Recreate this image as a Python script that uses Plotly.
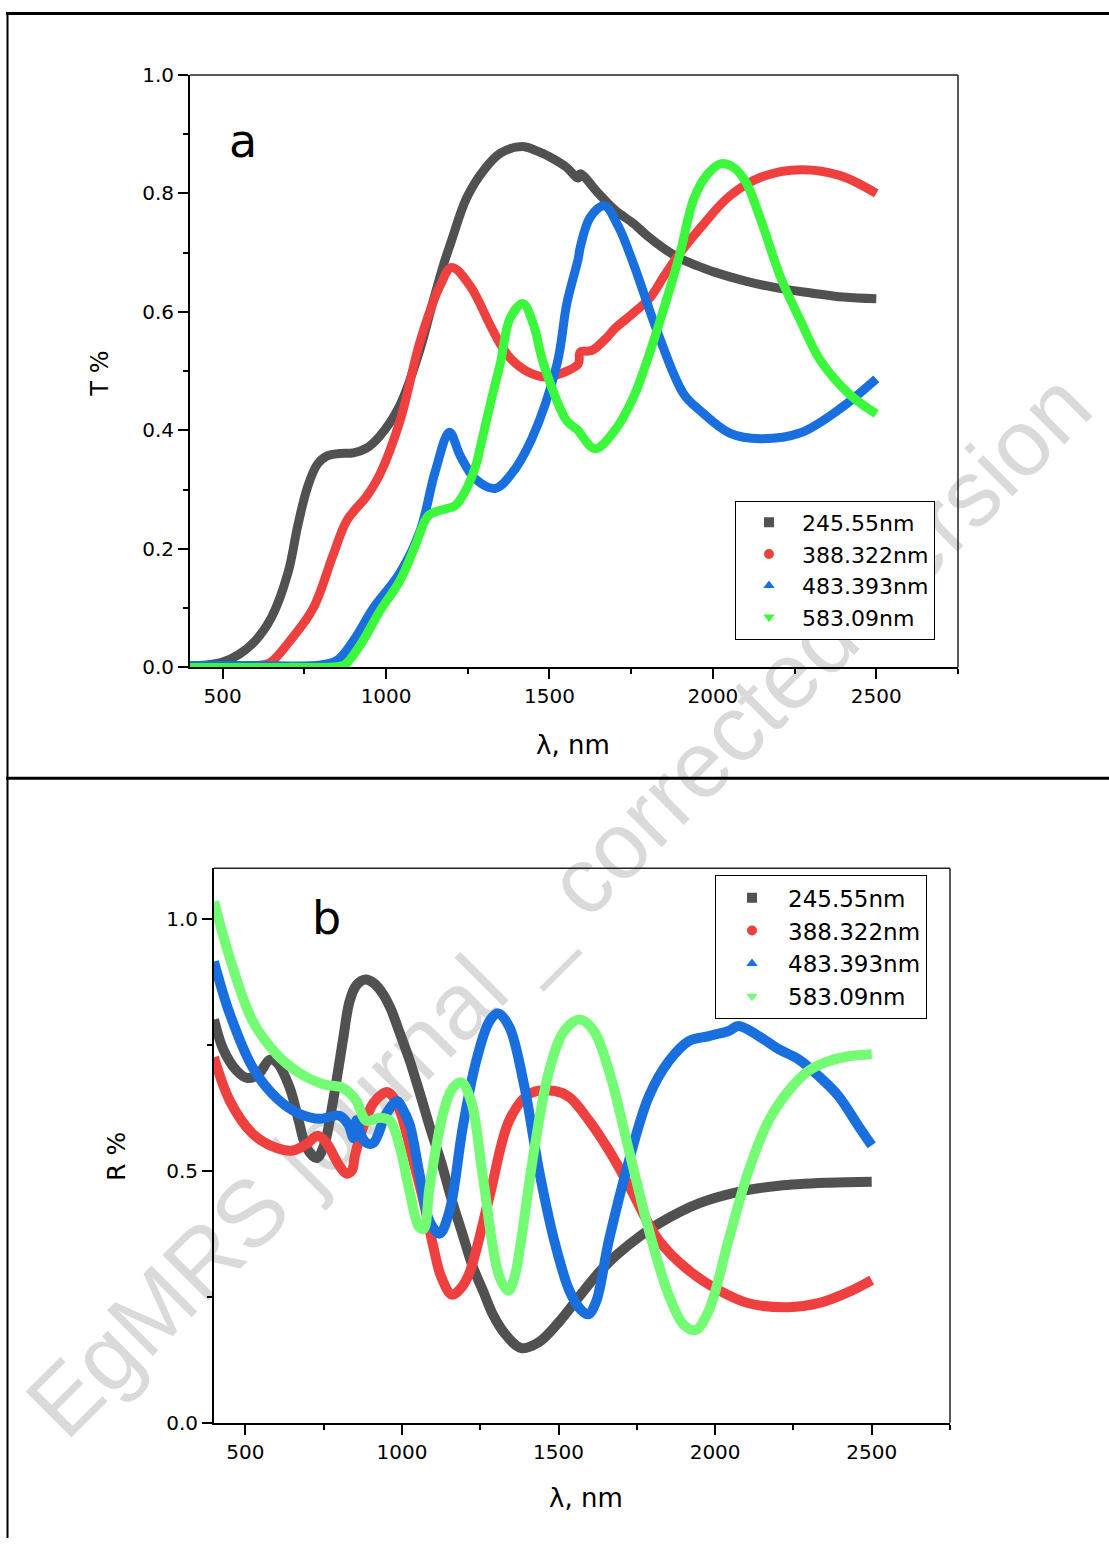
import plotly.graph_objects as go

# ---------------- data : panel a (T %) ----------------
series_names = ["245.55nm", "388.322nm", "483.393nm", "583.09nm"]

wl_T_245 = [400, 450, 500, 550, 600, 650, 700, 730, 760, 790, 820, 860, 900, 940, 980, 1040,
            1100, 1140, 1176, 1200, 1247, 1300, 1350, 1416, 1460, 1500, 1550, 1588, 1594, 1650,
            1700, 1757, 1800, 1850, 1900, 1951, 2000, 2100, 2200, 2300, 2400, 2500]
T_245 = [0.002, 0.004, 0.009, 0.022, 0.045, 0.085, 0.16, 0.24, 0.305, 0.343, 0.357, 0.361, 0.362,
         0.37, 0.39, 0.44, 0.53, 0.61, 0.68, 0.72, 0.793, 0.84, 0.868, 0.879, 0.872, 0.862, 0.845,
         0.826, 0.833, 0.80, 0.772, 0.749, 0.728, 0.707, 0.69, 0.678, 0.668, 0.652, 0.64, 0.632,
         0.625, 0.622]

wl_T_388 = [400, 500, 600, 645, 706, 777, 838, 880, 942, 982, 1043, 1104, 1165, 1201, 1257, 1319,
            1349, 1380, 1430, 1492, 1540, 1588, 1594, 1630, 1676, 1700, 1750, 1808, 1850, 1900,
            1962, 2050, 2150, 2270, 2390, 2500]
T_388 = [0.002, 0.002, 0.003, 0.008, 0.045, 0.10, 0.19, 0.248, 0.29, 0.327, 0.417, 0.55, 0.644,
         0.675, 0.644, 0.577, 0.546, 0.522, 0.50, 0.49, 0.497, 0.512, 0.532, 0.535, 0.557, 0.572,
         0.595, 0.624, 0.66, 0.70, 0.742, 0.795, 0.828, 0.84, 0.83, 0.80]

wl_T_483 = [400, 600, 800, 850, 900, 961, 1043, 1104, 1150, 1194, 1227, 1273, 1334, 1380, 1445,
            1523, 1553, 1588, 1594, 1625, 1668, 1710, 1757, 1829, 1910, 1962, 2053, 2145, 2268,
            2390, 2500]
T_483 = [0.003, 0.003, 0.004, 0.012, 0.045, 0.10, 0.16, 0.23, 0.33, 0.397, 0.357, 0.318, 0.302,
         0.324, 0.385, 0.512, 0.614, 0.69, 0.709, 0.76, 0.779, 0.745, 0.681, 0.568, 0.462, 0.433,
         0.395, 0.386, 0.396, 0.437, 0.487]

wl_T_583 = [400, 700, 850, 875, 920, 982, 1043, 1089, 1129, 1165, 1211, 1240, 1273, 1288, 1319,
            1349, 1380, 1419, 1450, 1482, 1553, 1588, 1594, 1640, 1700, 1757, 1800, 1860, 1900,
            1941, 1980, 2023, 2060, 2100, 2150, 2206, 2268, 2329, 2420, 2500]
T_583 = [0.0, 0.0, 0.001, 0.005, 0.037, 0.096, 0.147, 0.205, 0.256, 0.265, 0.273, 0.295, 0.338,
         0.371, 0.445, 0.512, 0.59, 0.614, 0.58, 0.512, 0.416, 0.40, 0.395, 0.369, 0.40, 0.456,
         0.52, 0.624, 0.70, 0.79, 0.83, 0.85, 0.845, 0.82, 0.75, 0.66, 0.585, 0.518, 0.46, 0.428]

# ---------------- data : panel b (R %) ----------------
wl_R_245 = [400, 430, 470, 505, 540, 578, 600, 642, 670, 696, 728, 753, 775, 791, 812, 833, 855,
            884, 910, 940, 965, 992, 1024, 1059, 1090, 1126, 1160, 1193, 1226, 1260, 1290, 1327,
            1381, 1438, 1502, 1566, 1629, 1690, 1760, 1820, 1948, 2075, 2203, 2362, 2500]
R_245 = [0.80, 0.74, 0.70, 0.684, 0.69, 0.72, 0.715, 0.664, 0.60, 0.545, 0.525, 0.553, 0.62,
         0.678, 0.76, 0.836, 0.868, 0.879, 0.872, 0.85, 0.82, 0.775, 0.72, 0.65, 0.585, 0.515,
         0.44, 0.375, 0.31, 0.26, 0.215, 0.178, 0.148, 0.16, 0.20, 0.25, 0.298, 0.335, 0.37,
         0.395, 0.435, 0.458, 0.47, 0.476, 0.478]

wl_R_388 = [400, 451, 524, 600, 652, 700, 728, 750, 769, 800, 823, 840, 850, 870, 887, 910, 951,
            970, 990, 1010, 1030, 1066, 1100, 1125, 1160, 1190, 1215, 1279, 1343, 1406, 1488,
            1534, 1598, 1661, 1725, 1820, 1916, 2011, 2107, 2234, 2330, 2425, 2500]
R_388 = [0.725, 0.638, 0.573, 0.545, 0.54, 0.555, 0.569, 0.562, 0.545, 0.51, 0.494, 0.50, 0.53,
         0.575, 0.605, 0.635, 0.656, 0.648, 0.625, 0.585, 0.535, 0.447, 0.35, 0.29, 0.254, 0.268,
         0.296, 0.447, 0.60, 0.652, 0.658, 0.646, 0.599, 0.54, 0.47, 0.362, 0.302, 0.263, 0.237,
         0.229, 0.237, 0.259, 0.283]

wl_R_483 = [400, 451, 524, 600, 672, 737, 801, 830, 845, 855, 870, 887, 909, 950, 985, 1000, 1024,
            1056, 1088, 1120, 1152, 1194, 1237, 1279, 1307, 1343, 1390, 1438, 1486, 1534, 1570,
            1595, 1620, 1661, 1725, 1789, 1852, 1916, 1980, 2043, 2075, 2139, 2203, 2266, 2330,
            2394, 2457, 2500]
R_483 = [0.915, 0.81, 0.704, 0.644, 0.613, 0.603, 0.609, 0.59, 0.565, 0.60, 0.57, 0.555, 0.555,
         0.613, 0.638, 0.625, 0.593, 0.494, 0.40, 0.375, 0.42, 0.585, 0.717, 0.796, 0.812, 0.785,
         0.67, 0.50, 0.362, 0.263, 0.225, 0.215, 0.24, 0.362, 0.52, 0.648, 0.717, 0.757, 0.767,
         0.777, 0.787, 0.767, 0.741, 0.721, 0.688, 0.648, 0.589, 0.55]

wl_R_583 = [400, 451, 524, 600, 672, 747, 812, 840, 855, 887, 930, 962, 994, 1024, 1056, 1070,
            1088, 1130, 1160, 1190, 1222, 1258, 1311, 1340, 1360, 1380, 1422, 1470, 1518, 1568,
            1613, 1661, 1725, 1789, 1852, 1900, 1938, 1980, 2043, 2107, 2171, 2234, 2298, 2362,
            2425, 2500]
R_583 = [1.034, 0.921, 0.796, 0.731, 0.694, 0.672, 0.664, 0.65, 0.638, 0.599, 0.605, 0.599,
         0.545, 0.46, 0.387, 0.385, 0.466, 0.61, 0.662, 0.675, 0.635, 0.49, 0.29, 0.262, 0.29,
         0.36, 0.54, 0.698, 0.777, 0.80, 0.777, 0.698, 0.54, 0.381, 0.253, 0.194, 0.184, 0.223,
         0.362, 0.50, 0.599, 0.658, 0.698, 0.717, 0.727, 0.731]

x_ticks = [500, 1000, 1500, 2000, 2500]

# ---------------- styles ----------------
colors_a = ["#515151", "#EF4040", "#1A6FDF", "#3CF83C"]
colors_b = ["#515151", "#EF4040", "#1A6FDF", "#74FC74"]
symbols = ["square", "circle", "triangle-up", "triangle-down"]
FONT = "DejaVu Sans, Liberation Sans, Arial, sans-serif"
WM_FONT = "Liberation Sans, Arial, sans-serif"
W, H = 1109, 1550

fig = go.Figure()

panel_a = [(wl_T_245, T_245), (wl_T_388, T_388), (wl_T_483, T_483), (wl_T_583, T_583)]
panel_b = [(wl_R_245, R_245), (wl_R_388, R_388), (wl_R_483, R_483), (wl_R_583, R_583)]

for i, (wx, wy) in enumerate(panel_a):
    fig.add_trace(go.Scatter(x=wx, y=wy, mode="lines",
                             line=dict(color=colors_a[i], width=9, shape="spline", smoothing=1.0),
                             showlegend=False, xaxis="x", yaxis="y"))
for i, name in enumerate(series_names):
    fig.add_trace(go.Scatter(x=[None], y=[None], mode="markers", name=name,
                             marker=dict(symbol=symbols[i], size=10, color=colors_a[i]),
                             legend="legend", xaxis="x", yaxis="y"))

for i, (wx, wy) in enumerate(panel_b):
    fig.add_trace(go.Scatter(x=wx, y=wy, mode="lines",
                             line=dict(color=colors_b[i], width=10, shape="spline", smoothing=1.0),
                             showlegend=False, xaxis="x2", yaxis="y2"))
for i, name in enumerate(series_names):
    fig.add_trace(go.Scatter(x=[None], y=[None], mode="markers", name=name,
                             marker=dict(symbol=symbols[i], size=10, color=colors_b[i]),
                             legend="legend2", xaxis="x2", yaxis="y2"))


def px_x(p):
    return p / W


def px_y(p):
    # the captured page is slightly squeezed vertically; compensate
    q = p / 0.9854 - 11.2
    return 1 - q / H


axis_common = dict(showgrid=False, zeroline=False, showline=True, linewidth=2, linecolor="black",
                   ticks="outside", ticklen=10, tickwidth=2, tickcolor="black",
                   tickfont=dict(family=FONT, size=20, color="black"))
minor_common = dict(ticks="outside", ticklen=5, tickwidth=2, tickcolor="black")

fig.update_layout(
    width=W, height=H,
    margin=dict(l=0, r=0, t=0, b=0),
    paper_bgcolor="white", plot_bgcolor="rgba(0,0,0,0)",
    font=dict(family=FONT, color="black"),
    xaxis=dict(domain=[px_x(190), px_x(958)], range=[400, 2750], anchor="y",
               tickmode="array", tickvals=x_ticks,
               minor=dict(dtick=250, tick0=0, **minor_common), **axis_common),
    yaxis=dict(domain=[px_y(667), px_y(74)], range=[0, 1.0], anchor="x",
               tickmode="linear", tick0=0, dtick=0.2, tickformat=".1f",
               minor=dict(dtick=0.1, tick0=0, **minor_common), **axis_common),
    xaxis2=dict(domain=[px_x(214), px_x(950)], range=[400, 2750], anchor="y2",
                tickmode="array", tickvals=x_ticks,
                minor=dict(dtick=250, tick0=0, **minor_common), **axis_common),
    yaxis2=dict(domain=[px_y(1423), px_y(868)], range=[0, 1.1], anchor="x2",
                tickmode="linear", tick0=0, dtick=0.5, tickformat=".1f",
                minor=dict(dtick=0.25, tick0=0, **minor_common), **axis_common),
    legend=dict(x=px_x(735), y=px_y(500), xanchor="left", yanchor="top",
                bgcolor="white", bordercolor="black", borderwidth=1,
                font=dict(family=FONT, size=22, color="black"), itemwidth=56, tracegroupgap=0),
    legend2=dict(x=px_x(715), y=px_y(875), xanchor="left", yanchor="top",
                 bgcolor="white", bordercolor="black", borderwidth=1,
                 font=dict(family=FONT, size=23, color="black"), itemwidth=62, tracegroupgap=0),
)

shapes = []
# table frame
shapes.append(dict(type="line", xref="paper", yref="paper", x0=px_x(6), x1=1, y0=1 - 1.5 / H, y1=1 - 1.5 / H,
                   line=dict(color="black", width=3)))
shapes.append(dict(type="line", xref="paper", yref="paper", x0=px_x(7.5), x1=px_x(7.5), y0=1 - 1.5 / H, y1=0,
                   line=dict(color="black", width=2)))
shapes.append(dict(type="line", xref="paper", yref="paper", x0=px_x(6), x1=1, y0=px_y(778), y1=px_y(778),
                   line=dict(color="black", width=3)))
# top / right spines
for xa, ya in [("x", "y"), ("x2", "y2")]:
    shapes.append(dict(type="line", xref=f"{xa} domain", yref=f"{ya} domain", x0=0, x1=1, y0=1, y1=1,
                       line=dict(color="#222", width=1.5)))
    shapes.append(dict(type="line", xref=f"{xa} domain", yref=f"{ya} domain", x0=1, x1=1, y0=0, y1=1,
                       line=dict(color="#222", width=1.5)))
# watermark
shapes.append(dict(type="line", xref="paper", yref="paper", layer="below",
                   x0=px_x(22), y0=px_y(1428), x1=px_x(1082), y1=px_y(368),
                   line=dict(color="rgba(0,0,0,0)", width=0),
                   label=dict(text="EgMRS journal _ corrected version", textposition="middle",
                              yanchor="middle", textangle=-45,
                              font=dict(family=WM_FONT, size=94, color="#dadada"))))
fig.update_layout(shapes=shapes)

ann = [
    dict(text="a", x=px_x(243), y=px_y(140), font=dict(size=46)),
    dict(text="b", x=px_x(326), y=px_y(918), font=dict(size=46)),
    dict(text="λ, nm", x=px_x(573), y=px_y(745), font=dict(size=26)),
    dict(text="λ, nm", x=px_x(586), y=px_y(1498), font=dict(size=26)),
    dict(text="T %", x=px_x(100), y=px_y(373), font=dict(size=24), textangle=-90),
    dict(text="R %", x=px_x(117), y=px_y(1157), font=dict(size=25), textangle=-90),
]
for a in ann:
    a.update(xref="paper", yref="paper", showarrow=False, xanchor="center", yanchor="middle")
    a["font"].update(family=FONT, color="black")
fig.update_layout(annotations=ann)

fig.write_html("out.html")
